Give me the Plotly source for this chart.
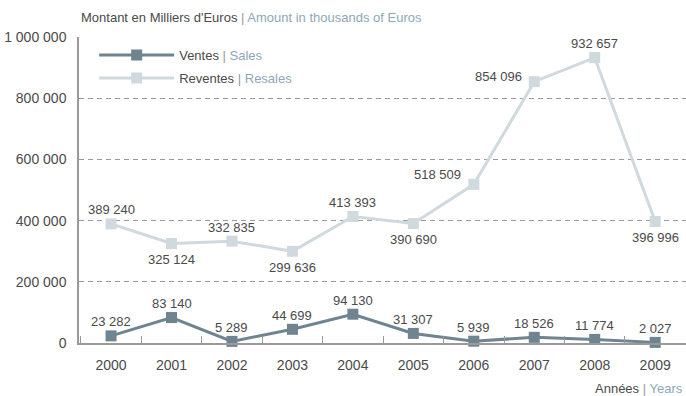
import plotly.graph_objects as go

years = ["2000", "2001", "2002", "2003", "2004", "2005", "2006", "2007", "2008", "2009"]
sales = [23282, 83140, 5289, 44699, 94130, 31307, 5939, 18526, 11774, 2027]
resales = [389240, 325124, 332835, 299636, 413393, 390690, 518509, 854096, 932657, 396996]
y_ticks = [0, 200000, 400000, 600000, 800000, 1000000]

resales_place = ["above", "below", "above", "below", "above", "below", "upleft", "left", "above", "below"]
sales_place = ["above"] * len(years)

DARK = "#6e8490"
LIGHT = "#cfd9de"
BLUE_TXT = "#8fa7b8"
TXT = "#4a4a4a"
GRID = "#9a9a9a"
FONT = "Liberation Sans, Arial, sans-serif"


def fmt(v):
    return f"{v:,}".replace(",", " ")


fig = go.Figure()
fig.add_trace(go.Scatter(
    x=years, y=sales, mode="lines+markers",
    name=f"Ventes <span style='color:#999'>|</span> <span style='color:{BLUE_TXT}'>Sales</span>",
    line=dict(color=DARK, width=3),
    marker=dict(symbol="square", size=11, color=DARK),
    cliponaxis=False, legendgroup="a",
))
fig.add_trace(go.Scatter(
    x=years, y=resales, mode="lines+markers",
    name=f"Reventes <span style='color:#999'>|</span> <span style='color:{BLUE_TXT}'>Resales</span>",
    line=dict(color=LIGHT, width=3),
    marker=dict(symbol="square", size=11, color=LIGHT),
    cliponaxis=False, legendgroup="b",
))

place_map = {
    "above": dict(xanchor="center", yanchor="middle", xshift=0, yshift=14),
    "below": dict(xanchor="center", yanchor="middle", xshift=0, yshift=-16),
    "upleft": dict(xanchor="right", yanchor="middle", xshift=-11, yshift=10),
    "left": dict(xanchor="right", yanchor="middle", xshift=-10, yshift=5),
}

annotations = []
for series, places in ((sales, sales_place), (resales, resales_place)):
    for i, (v, p) in enumerate(zip(series, places)):
        # category axis: annotation x is the category's serial index
        annotations.append(dict(
            x=i, y=v, xref="x", yref="y", text=fmt(v), showarrow=False,
            font=dict(size=13, color=TXT, family=FONT), **place_map[p]))

annotations.append(dict(
    x=0, y=1, xref="paper", yref="paper", xanchor="left", yanchor="bottom",
    yshift=10, showarrow=False,
    text=f"Montant en Milliers d'Euros <span style='color:#999'>|</span> <span style='color:{BLUE_TXT}'>Amount in thousands of Euros</span>",
    font=dict(size=13, color=TXT, family=FONT)))
annotations.append(dict(
    x=1, y=0, xref="paper", yref="paper", xanchor="right", yanchor="top",
    yshift=-36, xshift=-1, showarrow=False,
    text=f"Années <span style='color:#999'>|</span> <span style='color:{BLUE_TXT}'>Years</span>",
    font=dict(size=13, color=TXT, family=FONT)))

fig.update_layout(
    width=686, height=396,
    margin=dict(l=79, r=0, t=37, b=53),
    paper_bgcolor="white", plot_bgcolor="white",
    font=dict(family=FONT, size=13, color=TXT),
    showlegend=True,
    legend=dict(x=0.025, y=0.99, xanchor="left", yanchor="top",
                bgcolor="rgba(0,0,0,0)", itemwidth=75,
                traceorder="grouped", tracegroupgap=3,
                font=dict(size=13, color=TXT, family=FONT)),
    annotations=annotations,
    xaxis=dict(
        type="category", range=[-0.53, 9.51],
        showline=True, linecolor=GRID, linewidth=2,
        showgrid=False, zeroline=False,
        ticks="inside", tickson="boundaries", ticklen=7, tickcolor=GRID, tickwidth=1,
        tickfont=dict(size=14, color=TXT, family=FONT),
        ticklabelstandoff=8,
    ),
    yaxis=dict(
        range=[0, 1000000], tickvals=y_ticks, ticktext=[fmt(v) for v in y_ticks],
        showline=True, linecolor=GRID, linewidth=1.5,
        showgrid=True, gridcolor=GRID, gridwidth=1, griddash="5px,4px",
        zeroline=False, ticks="",
        tickfont=dict(size=14, color=TXT, family=FONT),
        ticklabelstandoff=8,
    ),
)

fig.write_html("out.html", config={"displayModeBar": False},
               post_script="document.body.style.margin='0';document.body.style.overflow='hidden';")
